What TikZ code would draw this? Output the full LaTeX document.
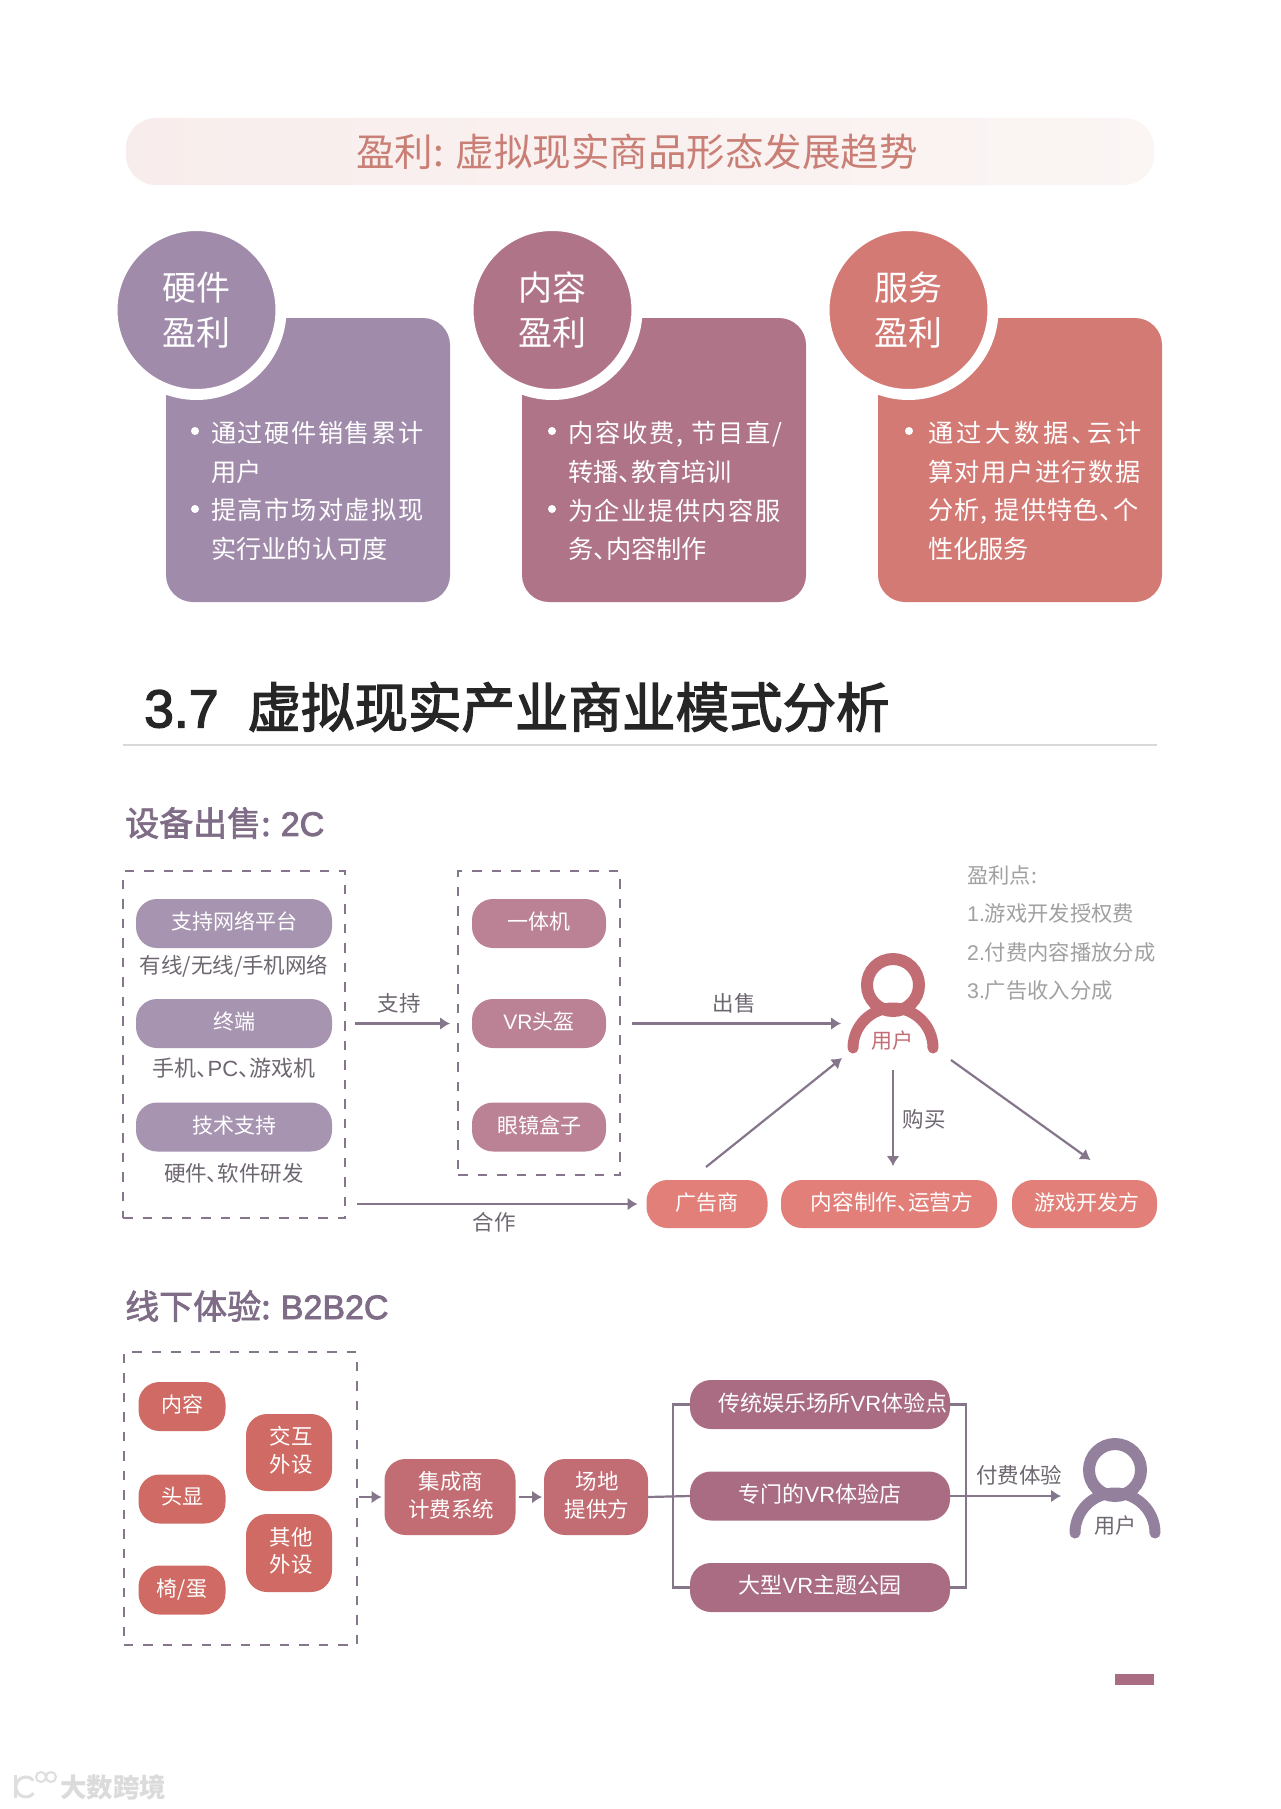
\documentclass[tikz,border=0pt]{standalone}
\usepackage{fontspec}
\setmainfont[RawFeature=+palt]{Noto Sans CJK SC}
\newfontfamily\lat{Liberation Sans}
\newfontfamily\latb[FakeBold=2.5]{Liberation Sans}
\usetikzlibrary{arrows.meta,calc}
\definecolor{cPurple}{HTML}{A08BAA}
\definecolor{cRose}{HTML}{B07488}
\definecolor{cCoral}{HTML}{D47A75}
\definecolor{cPillP}{HTML}{A694B1}
\definecolor{cPillR}{HTML}{BB8194}
\definecolor{cPillC}{HTML}{E27F78}
\definecolor{cRed}{HTML}{CF6B64}
\definecolor{cDeep}{HTML}{C26C74}
\definecolor{cPlum}{HTML}{A96C82}
\definecolor{cLine}{HTML}{85768C}
\definecolor{cTxt}{HTML}{6E6670}
\definecolor{cNote}{HTML}{A2A0A2}
\definecolor{cSub}{HTML}{7F6C86}
\definecolor{cTitle}{HTML}{C97F75}
\newcommand{\fsz}[2]{\fontsize{#1}{#2}\selectfont}
\newcommand{\spc}[2]{{\addfontfeature{LetterSpace=#1}#2}}
\tikzset{
  panelbox/.style={fill=#1,rounded corners=27pt,minimum width=284pt,minimum height=284pt,inner sep=0pt,outer sep=0pt},
  ringnode/.style={circle,fill=#1,draw=white,line width=11pt,minimum size=169pt,inner sep=0pt,outer sep=0pt,text=white,align=center,font=\fsz{34}{45}},
  ptext/.style={anchor=west,align=left,text=white,inner sep=0pt,font=\fsz{25.2}{38.8}},
  bulletdot/.style={circle,fill=white,minimum size=8pt,inner sep=0pt},
  pillshape/.style={fill=#1,rounded corners=21pt,inner sep=0pt,outer sep=0pt},
  pillnode/.style={pillshape=#1,text=white,align=center,text depth=5.5pt,font=\fsz{21}{28}},
  pilltext/.style={text=white,align=center,inner sep=0pt,font=\fsz{21.5}{27.7}},
  captext/.style={text=cTxt,inner sep=0pt,font=\fsz{21.5}{28}},
  notetext/.style={text=cNote,anchor=west,inner sep=0pt,font=\fsz{21.3}{28}},
  dbox/.style={draw=cLine,line width=2pt,dash pattern=on 9.5pt off 10pt,inner sep=0pt,outer sep=0pt},
  arr/.style={draw=cLine,line width=2.2pt,-{Latex[length=10pt,width=13pt]}},
  plainln/.style={draw=cLine,line width=2.2pt},
  subhead/.style={text=cSub,anchor=west,inner sep=0pt,font=\fsz{34}{40}\addfontfeature{FakeBold=2}},
  usernode/.style={minimum width=104pt,minimum height=105pt,inner sep=0pt,outer sep=0pt},
}
\begin{document}
\begin{tikzpicture}[x=1pt,y=-1pt]
\useasboundingbox (0,0) rectangle (1280,1809);
\fill[white] (0,0) rectangle (1280,1809);

% banner
\node[left color=cTitle!14!white,right color=cTitle!8!white,rounded corners=30pt,minimum width=1028pt,minimum height=67pt,inner sep=0pt] (banner) at (640,151.5) {};
\node[text=cTitle,inner sep=0pt,font=\fsz{38.5}{44}] (bannertext) at (637,152) {盈利: 虚拟现实商品形态发展趋势};

% panels
\node[panelbox=cPurple] (p1) at (308,460) {};
\node[panelbox=cRose] (p2) at (664,460) {};
\node[panelbox=cCoral] (p3) at (1020,460) {};
\node[ringnode=cPurple] (c1) at (196.5,310) {硬件\\盈利};
\node[ringnode=cRose] (c2) at (552.5,310) {内容\\盈利};
\node[ringnode=cCoral] (c3) at (908.5,310) {服务\\盈利};

\node[ptext] (t1) at (211,491) {\spc{6}{通过硬件销售累计}\\用户\\\spc{6}{提高市场对虚拟现}\\实行业的认可度};
\node[ptext] (t2) at (568,491) {\spc{7.5}{内容收费, 节目直/}\\转播、教育培训\\\spc{6}{为企业提供内容服}\\务、内容制作};
\node[ptext] (t3) at (928,491) {\spc{14}{通过大数据、云计}\\\spc{6}{算对用户进行数据}\\\spc{4.6}{分析, 提供特色、个}\\性化服务};
\node[bulletdot] (b1a) at (195,431) {};
\node[bulletdot] (b1b) at (195,509) {};
\node[bulletdot] (b2a) at (552,431) {};
\node[bulletdot] (b2b) at (552,509) {};
\node[bulletdot] (b3a) at (909,431) {};

% section heading
\node[anchor=west,inner sep=0pt,text=black!85,font=\fsz{53.5}{60}\addfontfeature{FakeBold=2.5}] (h37) at (144,707) {{\latb 3.7}\hspace{29pt}虚拟现实产业商业模式分析};
\draw[black!15,line width=1.5pt] (123,745) -- (1157,745);

% ---------- 2C
\node[subhead] (s1) at (125,823) {设备出售: {\latb 2C}};
\node[dbox,minimum width=222pt,minimum height=347pt] (box1) at (234,1044.5) {};
\node[dbox,minimum width=162pt,minimum height=304pt] (box2) at (539,1023) {};

\node[pillnode=cPillP,minimum width=196pt,minimum height=49pt] (l1) at (234,923.5) {支持网络平台};
\node[captext] (lc1) at (234,966) {有线/无线/手机网络};
\node[pillnode=cPillP,minimum width=196pt,minimum height=49pt] (l2) at (234,1023.5) {终端};
\node[captext] (lc2) at (234,1068) {\fsz{22}{28}手机、{\lat PC}、游戏机};
\node[pillnode=cPillP,minimum width=196pt,minimum height=49pt] (l3) at (234,1127) {技术支持};
\node[captext] (lc3) at (234,1173) {硬件、软件研发};

\node[pillnode=cPillR,minimum width=134pt,minimum height=49pt] (m1) at (539,923.5) {一体机};
\node[pillnode=cPillR,minimum width=134pt,minimum height=49pt] (m2) at (539,1023.5) {{\lat VR}头盔};
\node[pillnode=cPillR,minimum width=134pt,minimum height=49pt] (m3) at (539,1127) {眼镜盒子};

% user icon 1
\node[usernode] (usera) at (893,1005.5) {};
\draw[cDeep,line width=12pt] (893,985) circle[radius=26];
\draw[cDeep,line width=11pt,line cap=round] (853,1048) arc[start angle=180,end angle=360,radius=40];
\node[text=cDeep,inner sep=0pt,font=\fsz{21}{28}] (ualabel) at (892,1041) {用户};

\node[pillnode=cPillC,minimum width=121pt,minimum height=48pt] (ad) at (707,1204) {广告商};
\node[pillnode=cPillC,minimum width=216pt,minimum height=48pt] (cont) at (889,1204) {\hspace*{6pt}\fsz{21.7}{28}内容制作、运营方};
\node[pillnode=cPillC,minimum width=145pt,minimum height=48pt] (game) at (1084.5,1204) {\hspace*{4pt}游戏开发方};

\draw[arr,shorten <=10pt,shorten >=8pt] (box1.east |- m2) -- (box2.west |- m2);
\node[captext] (lsup) at (399,1003) {支持};
\draw[arr,shorten <=12pt] (box2.east |- m2) -- (usera.west |- m2);
\node[captext] (lsell) at (734,1003) {出售};
\draw[arr,shorten <=12pt,shorten >=9pt] (box1.east |- ad) -- (ad.west);
\node[captext] (lco) at (494,1222) {合作};
\draw[arr] ([shift={(-1,-13)}]ad.north) -- ([shift={(1,0)}]usera.south west);
\draw[arr,shorten <=12pt,shorten >=14pt] (usera.south) -- (usera.south |- cont.north);
\node[captext] (lbuy) at (924,1119) {购买};
\draw[arr] ([shift={(6,2)}]usera.south east) -- ([shift={(6,-20)}]game.north);

\node[notetext] (n0) at (967,875) {盈利点:};
\node[notetext] (n1) at (967,913) {{\lat 1.}游戏开发授权费};
\node[notetext] (n2) at (967,952) {{\lat 2.}付费内容播放分成};
\node[notetext] (n3) at (967,990) {{\lat 3.}广告收入分成};

% ---------- B2B2C
\node[subhead] (s2) at (125,1306) {线下体验: {\latb B2B2C}};
\node[dbox,minimum width=233pt,minimum height=293pt] (box3) at (240,1498.5) {};

\node[pillnode=cRed,minimum width=87pt,minimum height=49pt] (a1) at (182,1406.5) {内容};
\node[pillnode=cRed,minimum width=87pt,minimum height=49pt] (a2) at (182,1499) {头显};
\node[pillnode=cRed,minimum width=87pt,minimum height=49pt] (a3) at (182,1590) {椅/蛋};
\node[pillshape=cRed,minimum width=86pt,minimum height=77pt] (a4) at (289,1452.5) {};
\node[pilltext] (a4t) at ([shift={(2,-2)}]a4.center) {交互\\外设};
\node[pillshape=cRed,minimum width=86pt,minimum height=78pt] (a5) at (289,1553) {};
\node[pilltext] (a5t) at ([shift={(2,-2)}]a5.center) {其他\\外设};

\node[pillshape=cDeep,minimum width=131pt,minimum height=76pt] (sys) at (450,1497) {};
\node[pilltext] (syst) at ([shift={(1,-2)}]sys.center) {集成商\\计费系统};
\node[pillshape=cDeep,minimum width=104pt,minimum height=76pt] (site) at (596,1497) {};
\node[pilltext] (sitet) at ([shift={(1,-2)}]site.center) {场地\\提供方};

\node[pillnode=cPlum,minimum width=260pt,minimum height=49pt] (fun) at (820,1404.5) {};
\node[pillnode=cPlum,minimum width=260pt,minimum height=49pt] (store) at (820,1496) {\fsz{22}{28}专门的{\lat VR}体验店};
\node[pillnode=cPlum,minimum width=260pt,minimum height=49pt] (park) at (820,1587.5) {\fsz{22}{28}大型{\lat VR}主题公园};
\node[text=white,inner sep=0pt,font=\fsz{22}{28}] (funt) at (833,1403) {传统娱乐场所{\lat VR}体验点};

\node[usernode] (userb) at (1115,1490) {};
\draw[cPurple!92!black,line width=12pt] (1115,1470) circle[radius=26];
\draw[cPurple!92!black,line width=11pt,line cap=round] (1075,1533) arc[start angle=180,end angle=360,radius=40];
\node[text=cTxt,inner sep=0pt,font=\fsz{21}{28}] (ublabel) at (1115,1526) {用户};

\coordinate (bl) at (673,1496);
\coordinate (br) at (966,1496);
\draw[arr,shorten <=2pt,shorten >=3pt] (box3.east |- sys) -- (sys.west);
\draw[arr,shorten <=3pt,shorten >=2pt] (sys.east) -- (site.west);
\draw[plainln] (site.east) -- (store.west);
\draw[plainln] (fun.west) -- (fun.west -| bl) -- (park.west -| bl) -- (park.west);
\draw[plainln] (fun.east) -- (fun.east -| br) -- (park.east -| br) -- (park.east);
\draw[arr,shorten >=2pt] (store.east) -- (userb.west |- store);
\node[captext] (lpay) at (1019,1475) {付费体验};

% page mark
\fill[cPlum] (1115,1674) rectangle (1154,1685);

% watermark
\draw[black!13,line width=3pt] (15,1775) -- (15,1798);
\draw[black!13,line width=3pt] (33.5,1780.5) arc[start angle=-40,end angle=-320,radius=10];
\draw[black!13,line width=2pt] (41,1777) circle[radius=5];
\draw[black!13,line width=2pt] (51,1777) circle[radius=5];
\node[text=black!14,anchor=west,inner sep=0pt,font=\fsz{26.5}{30}\bfseries] (wm) at (60,1787) {大数跨境};
\end{tikzpicture}
\end{document}
